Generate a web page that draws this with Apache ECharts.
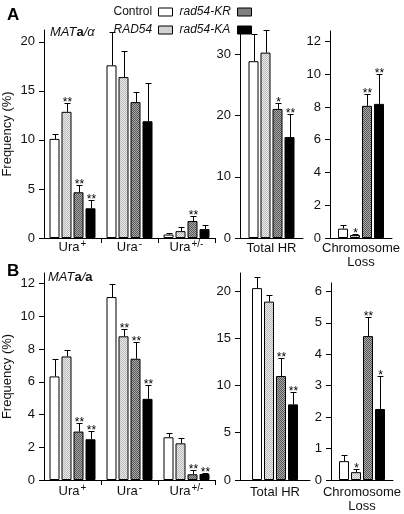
<!DOCTYPE html>
<html><head><meta charset="utf-8">
<script src="https://cdn.jsdelivr.net/npm/echarts@6/dist/echarts.min.js"></script>
<style>html,body{margin:0;padding:0;background:#fff}#c{width:404px;height:514px}</style>
</head><body><div id="c"></div>
<script>
// ---------- data ----------
const strainNames = ['Control', 'RAD54', 'rad54-KR', 'rad54-KA'];
const uraCategories = ['Ura+', 'Ura-', 'Ura+/-'];
const hrCategories = ['Total HR'];
const lossCategories = ['Chromosome\nLoss'];

// Panel A (MATa/alpha), Ura groups: values per strain [Ura+, Ura-, Ura+/-]
const aUraControl = [10.1, 17.6, 0.35];
const aUraRAD54 = [12.86, 16.4, 0.7];
const aUraKR = [4.66, 13.85, 1.73];
const aUraKA = [3.03, 11.9, 0.9];
const aUraControlErr = [0.55, 3.35, 0.2];
const aUraRAD54Err = [0.95, 2.7, 0.45];
const aUraKRErr = [0.7, 1.0, 0.5];
const aUraKAErr = [0.8, 3.9, 0.4];
const aUraControlSig = ['', '', ''];
const aUraRAD54Sig = ['**', '', ''];
const aUraKRSig = ['**', '', '**'];
const aUraKASig = ['**', '', ''];
// Panel A, Total HR and Chromosome Loss: per strain [Control, RAD54, KR, KA]
const aHR = [28.9, 30.3, 21.1, 16.5];
const aHRErr = [4.4, 3.75, 1.0, 3.7];
const aHRSig = ['', '', '*', '**'];
const aLoss = [0.57, 0.18, 8.07, 8.19];
const aLossErr = [0.2, 0.05, 0.72, 1.8];
const aLossSig = ['', '*', '**', '**'];

// Panel B (MATa/a)
const bUraControl = [6.33, 11.18, 2.61];
const bUraRAD54 = [7.55, 8.78, 2.24];
const bUraKR = [2.96, 7.41, 0.35];
const bUraKA = [2.49, 4.96, 0.37];
const bUraControlErr = [1.08, 0.78, 0.24];
const bUraRAD54Err = [0.41, 0.42, 0.31];
const bUraKRErr = [0.53, 1.04, 0.28];
const bUraKAErr = [0.53, 0.86, 0.08];
const bUraControlSig = ['', '', ''];
const bUraRAD54Sig = ['', '**', ''];
const bUraKRSig = ['**', '**', '**'];
const bUraKASig = ['**', '**', '**'];
const bHR = [20.3, 18.87, 11.0, 8.0];
const bHRErr = [1.2, 0.75, 1.87, 1.34];
const bHRSig = ['', '', '**', '**'];
const bLoss = [0.6, 0.25, 4.58, 2.26];
const bLossErr = [0.2, 0.09, 0.62, 1.05];
const bLossSig = ['', '*', '**', '*'];

// tick labels
const aUraTicks = [0, 5, 10, 15, 20];
const aHRTicks = [0, 10, 20, 30];
const aLossTicks = [0, 2, 4, 6, 8, 10, 12];
const bUraTicks = [0, 2, 4, 6, 8, 10, 12];
const bHRTicks = [0, 5, 10, 15, 20];
const bLossTicks = [0, 1, 2, 3, 4, 5, 6];

// ---------- styling ----------
const FONT = '"Liberation Sans", Arial, sans-serif';
function makePattern(c1, c2) {
  const cv = document.createElement('canvas');
  cv.width = 2; cv.height = 2;
  const ctx = cv.getContext('2d');
  ctx.fillStyle = c1; ctx.fillRect(0, 0, 2, 2);
  ctx.fillStyle = c2; ctx.fillRect(0, 0, 1, 1); ctx.fillRect(1, 1, 1, 1);
  return { image: cv, repeat: 'repeat' };
}
const strainColors = [
  '#ffffff',
  makePattern('#ececec', '#b8b8b8'),
  makePattern('#a8a8a8', '#585858'),
  '#000000'
];
const offsets = [-18, -6, 6, 18];

const grids = [], xAxes = [], yAxes = [], series = [];

function catFormatter(v) {
  if (v.indexOf('Ura') === 0) return '{b|Ura}{s|' + v.slice(3) + '}';
  return v;
}

function addPanel(g, pos, cats, vals, errs, sigs, ticks, yMax, labelMargin, yName) {
  grids.push({ left: pos[0], top: pos[1], width: pos[2], height: pos[3] });
  xAxes.push({
    type: 'category', gridIndex: g, data: cats,
    axisLine: { lineStyle: { color: '#000', width: 1 } },
    axisTick: { show: cats.length > 1, length: 5, interval: (i) => i > 0, lineStyle: { color: '#000' } },
    axisLabel: {
      margin: labelMargin, fontSize: 13, color: '#111', fontFamily: FONT, lineHeight: 14,
      interval: 0, formatter: catFormatter,
      rich: {
        b: { fontSize: 13, fontFamily: FONT, color: '#111', verticalAlign: 'bottom' },
        s: { fontSize: 10, fontFamily: FONT, color: '#111', verticalAlign: 'bottom', padding: [0, 0, 5, 1] }
      }
    }
  });
  yAxes.push({
    type: 'value', gridIndex: g, min: 0, max: yMax,
    splitLine: { show: false },
    axisLine: { show: true, lineStyle: { color: '#000', width: 1 } },
    axisTick: { show: true, length: 5, customValues: ticks, lineStyle: { color: '#000' } },
    axisLabel: { customValues: ticks, margin: 9, fontSize: 13, color: '#111', fontFamily: FONT },
    name: yName || '', nameLocation: 'middle', nameGap: 30, nameRotate: 90,
    nameTextStyle: { fontSize: 13, color: '#111', fontFamily: FONT }
  });
  for (let s = 0; s < 4; s++) {
    series.push({
      type: 'bar', name: strainNames[s], xAxisIndex: g, yAxisIndex: g,
      data: vals[s], barWidth: 10, barGap: '20%',
      itemStyle: { color: strainColors[s], borderColor: '#000', borderWidth: 1 },
      silent: true, animation: false
    });
    const v = vals[s], e = errs[s], sg = sigs[s];
    series.push({
      type: 'custom', xAxisIndex: g, yAxisIndex: g, silent: true, animation: false, z: 5,
      encode: { x: 0, y: [1, 2] },
      data: v.map((val, i) => [i, val, val + e[i]]),
      renderItem: function (params, api) {
        const i = api.value(0);
        const base = api.coord([i, api.value(1)]);
        const top = api.coord([i, api.value(2)]);
        const x = Math.round(base[0] + offsets[s]) + 0.5;
        const yb = base[1], yt = Math.round(top[1]) + 0.5;
        const children = [
          { type: 'line', shape: { x1: x, y1: yb, x2: x, y2: yt }, style: { stroke: '#000', lineWidth: 1 } },
          { type: 'line', shape: { x1: x - 3, y1: yt, x2: x + 3, y2: yt }, style: { stroke: '#000', lineWidth: 1 } }
        ];
        const txt = sg[params.dataIndex];
        if (txt) children.push({
          type: 'text',
          style: { text: txt, x: x, y: yt + 5, align: 'center', verticalAlign: 'bottom',
                   font: '12px ' + FONT, fill: '#000' }
        });
        return { type: 'group', children: children };
      }
    });
  }
}

const perStrain = (arr) => strainNames.map((_, s) => [arr[s]]);

addPanel(0, [43, 30, 172, 208], uraCategories,
  [aUraControl, aUraRAD54, aUraKR, aUraKA],
  [aUraControlErr, aUraRAD54Err, aUraKRErr, aUraKAErr],
  [aUraControlSig, aUraRAD54Sig, aUraKRSig, aUraKASig],
  aUraTicks, 21.2, 2, 'Frequency (%)');
addPanel(1, [240, 30, 63, 208], hrCategories,
  perStrain(aHR), perStrain(aHRErr), perStrain(aHRSig), aHRTicks, 34, 3);
addPanel(2, [330, 31, 62, 207], lossCategories,
  perStrain(aLoss), perStrain(aLossErr), perStrain(aLossSig), aLossTicks, 12.64, 3);

addPanel(3, [43, 273, 172, 207], uraCategories,
  [bUraControl, bUraRAD54, bUraKR, bUraKA],
  [bUraControlErr, bUraRAD54Err, bUraKRErr, bUraKAErr],
  [bUraControlSig, bUraRAD54Sig, bUraKRSig, bUraKASig],
  bUraTicks, 12.65, 4, 'Frequency (%)');
addPanel(4, [240, 273, 70, 207], hrCategories,
  perStrain(bHR), perStrain(bHRErr), perStrain(bHRSig), bHRTicks, 21.9, 5);
addPanel(5, [331, 283, 62, 197], lossCategories,
  perStrain(bLoss), perStrain(bLossErr), perStrain(bLossSig), bLossTicks, 6.27, 5);

const legendRich = {
  n: { fontSize: 12, fontFamily: FONT, color: '#111', width: 40, align: 'left' },
  i: { fontSize: 12, fontFamily: FONT, color: '#111', fontStyle: 'italic', width: 40, align: 'left' },
  j: { fontSize: 12, fontFamily: FONT, color: '#111', fontStyle: 'italic', width: 53, align: 'left' }
};
function legendBase(right, names, fmt) {
  return {
    orient: 'vertical', align: 'right', right: right, top: 6, padding: 0,
    itemWidth: 14, itemHeight: 8, itemGap: 6, selectedMode: false,
    icon: 'rect', data: names,
    itemStyle: { borderColor: '#000', borderWidth: 1 },
    formatter: fmt,
    textStyle: { fontSize: 12, fontFamily: FONT, color: '#111', rich: legendRich }
  };
}

const option = {
  animation: false,
  backgroundColor: '#fff',
  legend: [
    legendBase(231, ['Control', 'RAD54'], (n) => n === 'Control' ? '{n|' + n + '}' : '{i|' + n + '}'),
    legendBase(152, ['rad54-KR', 'rad54-KA'], (n) => '{j|' + n + '}')
  ],
  grid: grids, xAxis: xAxes, yAxis: yAxes, series: series,
  graphic: [
    { type: 'text', left: 7, top: 7, style: { text: 'A', font: 'bold 17px ' + FONT, fill: '#000' } },
    { type: 'text', left: 7, top: 263, style: { text: 'B', font: 'bold 17px ' + FONT, fill: '#000' } },
    { type: 'text', left: 50, top: 26, style: {
        text: '{i|MAT}{b|a}{i|/α}',
        rich: { i: { fontSize: 13, fontStyle: 'italic', fontFamily: FONT, fill: '#111' },
                b: { fontSize: 13, fontWeight: 'bold', fontFamily: FONT, fill: '#111' } } } },
    { type: 'text', left: 48, top: 271, style: {
        text: '{i|MAT}{b|a}{i|/}{b|a}',
        rich: { i: { fontSize: 13, fontStyle: 'italic', fontFamily: FONT, fill: '#111' },
                b: { fontSize: 13, fontWeight: 'bold', fontFamily: FONT, fill: '#111' } } } }
  ]
};
const chart = echarts.init(document.getElementById('c'), null, { renderer: 'canvas' });
chart.setOption(option);
</script>
</body></html>
